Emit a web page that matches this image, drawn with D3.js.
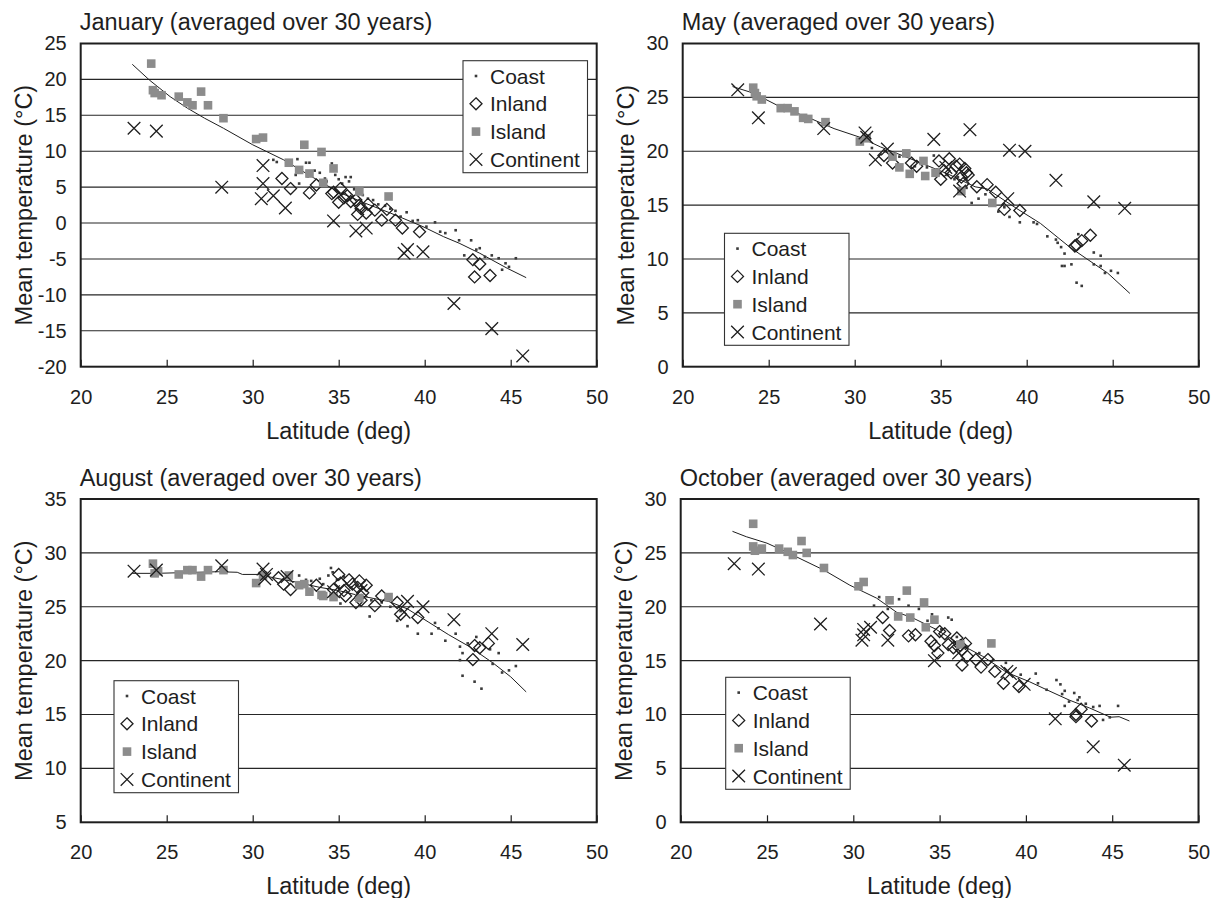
<!DOCTYPE html>
<html>
<head>
<meta charset="utf-8">
<script src="https://cdn.jsdelivr.net/npm/d3@7"></script>
<style>
  html, body { margin: 0; padding: 0; background: #fff; }
  svg { display: block; }
</style>
</head>
<body>
<svg id="chart" width="1218" height="898"></svg>
<script>
// ---------------- DATA ----------------
const seriesNames = ["Coast", "Inland", "Island", "Continent"];
const xTicks = [20, 25, 30, 35, 40, 45, 50];
const panelTitles = [
  "January (averaged over 30 years)",
  "May (averaged over 30 years)",
  "August (averaged over 30 years)",
  "October (averaged over 30 years)"
];
const xAxisTitle = "Latitude (deg)";
const yAxisTitle = "Mean temperature (°C)";

const janYTicks = [-20, -15, -10, -5, 0, 5, 10, 15, 20, 25];
const mayYTicks = [0, 5, 10, 15, 20, 25, 30];
const augYTicks = [5, 10, 15, 20, 25, 30, 35];
const octYTicks = [0, 5, 10, 15, 20, 25, 30];

// January
const janCoast = [[31.2,8.8],[31.4,8.5],[32.5,6.7],[32.6,8.9],[32.7,5.5],[33.1,8.4],[33.3,8.4],[33.2,6.5],[33.6,7.3],[33.9,7.0],[34.2,6.2],[34.3,5.8],[34.6,8.3],[34.7,7.8],[34.8,6.7],[35.0,6.1],[35.2,5.5],[35.4,6.4],[35.6,5.8],[35.7,6.4],[35.9,4.7],[36.1,4.3],[36.4,3.9],[36.7,3.4],[37.0,3.2],[37.3,2.6],[37.7,2.4],[38.0,2.0],[38.3,1.7],[38.6,0.9],[38.95,1.5],[39.3,0.3],[39.6,0.4],[40.1,-0.5],[40.6,0.1],[40.9,-1.2],[41.2,-1.4],[41.8,-1.0],[42.0,-2.4],[42.3,-4.5],[42.7,-2.4],[43.0,-3.7],[43.2,-3.5],[43.5,-4.7],[43.9,-4.5],[44.3,-4.9],[44.5,-6.5],[44.7,-5.6],[44.9,-6.1],[45.3,-4.9]];
const janInland = [[31.7,6.2],[32.2,4.8],[33.3,4.2],[33.7,5.3],[34.6,4.1],[34.7,4.3],[35.0,2.9],[35.1,4.8],[35.3,3.5],[35.5,3.8],[35.7,3.0],[36.0,3.2],[36.2,2.5],[36.1,1.2],[36.3,2.0],[36.6,1.4],[36.7,2.6],[37.1,1.8],[37.5,0.4],[37.8,1.9],[38.3,0.4],[38.7,-0.7],[39.7,-1.2],[42.8,-5.1],[43.2,-5.7],[42.9,-7.5],[43.8,-7.3]];
const janIsland = [[24.1,22.2],[24.2,18.5],[24.3,18.1],[24.7,17.8],[25.7,17.6],[26.2,16.8],[26.5,16.4],[27.0,18.3],[27.4,16.4],[28.3,14.6],[30.2,11.7],[30.6,11.9],[32.1,8.4],[32.7,7.4],[33.0,10.9],[33.3,6.9],[34.0,9.9],[34.1,5.6],[34.7,7.6],[36.2,4.4],[37.9,3.7]];
const janContinent = [[23.1,13.2],[24.4,12.8],[28.2,5.0],[30.6,8.0],[30.6,5.5],[30.5,3.4],[31.2,3.8],[31.9,2.1],[34.7,0.3],[36.0,-1.1],[36.6,-0.7],[38.8,-4.2],[39.0,-3.7],[39.9,-4.0],[41.7,-11.2],[43.9,-14.7],[45.7,-18.5]];
const janTrend = [[23.0,22.1],[24.0,19.9],[25.2,17.6],[26.2,16.0],[27.2,14.6],[28.3,13.2],[30.0,10.9],[31.8,8.8],[33.4,6.5],[35.0,4.3],[36.5,2.8],[38.0,1.4],[39.9,-0.5],[41.1,-1.9],[42.0,-2.8],[43.2,-4.2],[44.8,-6.3],[45.9,-7.6]];

// May
const mayCoast = [[31.0,20.3],[31.8,20.0],[32.6,19.5],[33.5,18.6],[34.2,18.5],[34.6,19.6],[34.8,18.3],[35.4,17.8],[35.8,17.4],[36.0,17.6],[36.5,16.6],[36.8,15.2],[37.2,15.6],[37.6,16.0],[38.35,14.4],[38.7,14.8],[39.0,13.9],[39.6,13.4],[40.4,13.4],[40.6,13.25],[41.2,12.1],[41.7,11.8],[41.8,11.5],[42.0,11.1],[42.2,10.5],[42.05,9.35],[42.2,9.35],[42.6,9.5],[42.9,7.8],[43.2,7.5],[43.0,12.3],[43.9,10.6],[44.3,10.3],[43.9,9.5],[44.3,9.35],[44.55,8.7],[44.9,8.9],[45.3,8.7]];
const mayInland = [[31.7,19.6],[32.2,18.9],[33.3,18.9],[33.6,18.6],[34.9,19.1],[35.0,17.4],[35.2,18.2],[35.5,19.3],[35.6,18.0],[35.9,18.6],[36.1,18.8],[36.2,17.6],[36.3,17.0],[36.5,18.0],[36.6,17.8],[36.4,18.4],[37.1,16.7],[37.7,16.9],[38.2,16.2],[38.7,14.6],[39.6,14.5],[42.8,11.2],[42.9,11.3],[43.2,11.7],[43.7,12.2]];
const mayIsland = [[24.1,25.9],[24.2,25.4],[24.3,25.1],[24.6,24.8],[25.7,24.0],[26.1,24.0],[26.5,23.7],[27.0,23.1],[27.3,23.0],[28.3,22.7],[30.3,20.9],[30.7,21.2],[32.2,19.5],[32.6,18.5],[33.0,19.8],[33.2,17.9],[34.0,19.1],[34.1,17.7],[34.7,18.0],[36.2,16.3],[38.0,15.2]];
const mayContinent = [[23.2,25.7],[24.4,23.1],[28.2,22.1],[30.6,21.7],[30.7,21.3],[31.2,19.2],[31.9,20.2],[34.6,21.1],[35.3,18.5],[36.1,16.3],[36.7,22.0],[38.9,15.6],[39.0,20.1],[39.9,20.0],[41.7,17.3],[43.9,15.3],[45.7,14.7]];
const mayTrend = [[22.9,26.0],[24.1,25.4],[25.7,24.1],[27.2,23.2],[28.8,22.1],[30.3,21.3],[31.5,20.4],[33.4,19.2],[35.4,17.9],[37.0,16.7],[37.7,16.5],[39.4,14.7],[40.8,13.3],[42.5,11.1],[43.5,10.0],[44.7,8.7],[46.0,6.8]];

// August
const augCoast = [[32.7,27.9],[33.1,27.5],[33.4,27.4],[33.9,27.6],[34.1,27.1],[34.4,27.9],[34.55,28.6],[34.65,28.2],[34.9,27.5],[35.1,25.3],[35.3,27.8],[35.7,26.8],[36.1,26.2],[36.8,24.1],[36.9,25.6],[37.5,25.4],[38.0,25.0],[38.4,23.7],[38.6,24.6],[39.0,23.2],[39.6,22.5],[40.4,22.5],[40.6,23.5],[40.8,23.0],[41.2,21.85],[41.8,22.5],[42.05,21.3],[42.2,20.7],[42.05,20.05],[42.2,18.6],[42.5,21.6],[42.9,18.05],[43.0,22.2],[43.3,17.4],[43.8,21.05],[43.95,19.7],[44.3,20.7],[44.5,18.9],[44.9,19.1],[45.3,19.5]];
const augInland = [[31.5,27.7],[31.8,27.1],[32.2,26.6],[33.7,27.0],[34.7,26.6],[35.0,28.0],[35.1,27.2],[35.3,26.5],[35.4,26.0],[35.6,27.5],[35.8,27.1],[36.0,25.4],[36.1,26.8],[36.2,27.4],[36.4,26.3],[36.6,27.0],[36.3,25.6],[37.1,25.1],[37.5,26.0],[38.4,25.4],[38.6,24.3],[39.6,24.0],[42.8,20.1],[42.9,21.4],[43.2,21.2],[43.7,21.6]];
const augIsland = [[24.2,29.0],[24.3,28.1],[24.5,28.3],[25.7,28.0],[26.2,28.4],[26.5,28.4],[27.0,27.8],[27.4,28.4],[28.3,28.4],[30.2,27.2],[30.6,27.9],[32.1,27.9],[32.7,27.0],[33.0,27.1],[33.3,26.4],[34.0,26.1],[34.1,26.0],[34.7,25.9],[36.2,25.8],[37.9,25.9]];
const augContinent = [[23.1,28.3],[24.4,28.4],[28.2,28.8],[30.6,28.5],[30.7,27.6],[30.8,28.0],[32.0,27.8],[34.7,26.4],[36.3,26.5],[38.8,24.5],[39.0,25.5],[39.9,25.0],[41.7,23.8],[43.9,22.5],[45.7,21.5]];
const augTrend = [[23.0,28.1],[24.4,28.1],[26.7,28.2],[28.0,28.25],[29.1,28.2],[29.4,28.0],[30.3,28.0],[31.2,27.7],[32.5,27.3],[33.9,26.8],[35.0,26.5],[36.3,26.0],[37.9,25.5],[39.0,24.8],[40.2,23.6],[41.4,22.4],[42.6,21.3],[44.0,19.75],[45.0,18.5],[45.9,17.1]];

// October
const octCoast = [[31.2,20.1],[31.5,20.9],[32.0,19.8],[32.65,20.7],[33.2,20.1],[33.8,19.8],[34.3,18.7],[34.56,19.3],[35.1,17.9],[35.5,19.0],[35.7,18.8],[36.0,17.2],[36.6,16.3],[37.3,15.7],[38.1,15.05],[38.84,14.8],[39.7,13.7],[40.57,13.8],[40.7,12.9],[41.2,12.3],[41.77,13.2],[42.0,12.8],[42.25,12.2],[42.1,11.9],[42.5,11.2],[42.25,10.8],[42.8,12.0],[43.0,11.35],[43.1,11.6],[43.47,11.0],[43.9,10.7],[44.27,10.8],[44.47,9.5],[44.86,9.74],[45.34,10.8]];
const octInland = [[31.7,19.0],[32.1,17.8],[33.2,17.3],[33.6,17.4],[34.5,16.8],[34.7,16.4],[34.9,15.7],[35.0,17.7],[35.3,17.5],[35.5,16.5],[35.8,16.2],[36.0,17.1],[36.2,16.4],[36.3,16.0],[36.3,14.6],[36.5,16.6],[36.6,15.4],[37.1,15.1],[37.4,14.4],[37.8,15.1],[38.2,14.0],[38.7,12.9],[39.6,12.6],[42.9,9.8],[42.9,10.0],[43.2,10.5],[43.8,9.4]];
const octIsland = [[24.2,27.7],[24.2,25.6],[24.3,25.2],[24.7,25.4],[25.7,25.4],[26.2,25.1],[26.5,24.8],[27.0,26.1],[27.3,25.0],[28.3,23.6],[30.3,21.9],[30.6,22.3],[32.1,20.6],[32.6,19.1],[33.1,21.5],[33.3,19.0],[34.1,20.4],[34.2,18.1],[34.7,18.8],[36.2,16.5],[38.0,16.6]];
const octContinent = [[23.1,24.0],[24.5,23.5],[28.1,18.4],[30.6,17.9],[30.6,17.4],[30.5,16.9],[31.0,18.1],[32.0,16.9],[34.7,15.0],[36.1,15.7],[38.9,14.0],[39.1,13.8],[39.9,12.8],[41.7,9.6],[43.9,7.0],[45.7,5.3]];
const octTrend = [[23.0,27.0],[23.8,26.5],[25.0,25.9],[26.1,25.1],[28.3,23.4],[29.8,22.0],[31.35,20.8],[32.5,19.5],[33.4,19.0],[34.8,17.9],[36.1,16.6],[37.5,15.4],[38.9,13.9],[40.2,13.05],[41.2,12.3],[42.5,11.35],[43.7,10.6],[44.9,9.75],[45.4,9.8],[46.0,9.4]];

// ---------------- LAYOUT ----------------
const FONT = "'Liberation Sans', Arial, Helvetica, sans-serif";
const panels = [
  { title: panelTitles[0], yTicks: janYTicks, coast: janCoast, inland: janInland, island: janIsland, continent: janContinent, trend: janTrend,
    x0: 80.7, x1: 596.7, y0: 43.5, y1: 366.7, legend: [463, 60.7] },
  { title: panelTitles[1], yTicks: mayYTicks, coast: mayCoast, inland: mayInland, island: mayIsland, continent: mayContinent, trend: mayTrend,
    x0: 682.7, x1: 1198.7, y0: 43.5, y1: 366.7, legend: [724.5, 233.3] },
  { title: panelTitles[2], yTicks: augYTicks, coast: augCoast, inland: augInland, island: augIsland, continent: augContinent, trend: augTrend,
    x0: 80.7, x1: 596.7, y0: 499, y1: 822.3, legend: [114, 680.7] },
  { title: panelTitles[3], yTicks: octYTicks, coast: octCoast, inland: octInland, island: octIsland, continent: octContinent, trend: octTrend,
    x0: 680.7, x1: 1198.5, y0: 499, y1: 822.3, legend: [725.7, 677.3] }
];

const svg = d3.select("#chart");
svg.append("rect").attr("width", 1218).attr("height", 898).attr("fill", "#fff");

const diamondPath = "M0,-6L6,0L0,6L-6,0Z";
const crossPath = "M-6.3,-6.3L6.3,6.3M-6.3,6.3L6.3,-6.3";
const ISLAND = "#8c8c8c";
const INK = "#1e1e1e";
const fmt = d => String(d);   // plain hyphen-minus like the reference

function drawMarker(g, type, cx, cy) {
  if (type === "Coast") {
    g.append("rect").attr("x", cx - 1.3).attr("y", cy - 1.3).attr("width", 2.6).attr("height", 2.6).attr("fill", "#3a3a3a");
  } else if (type === "Inland") {
    g.append("path").attr("d", diamondPath).attr("transform", `translate(${cx},${cy})`)
      .attr("fill", "none").attr("stroke", INK).attr("stroke-width", 1.3);
  } else if (type === "Island") {
    g.append("rect").attr("x", cx - 4.3).attr("y", cy - 4.3).attr("width", 8.6).attr("height", 8.6).attr("fill", ISLAND);
  } else {
    g.append("path").attr("d", crossPath).attr("transform", `translate(${cx},${cy})`)
      .attr("fill", "none").attr("stroke", INK).attr("stroke-width", 1.3);
  }
}

panels.forEach(p => {
  const x = d3.scaleLinear().domain([20, 50]).range([p.x0, p.x1]);
  const yd = d3.extent(p.yTicks);
  const y = d3.scaleLinear().domain(yd).range([p.y1, p.y0]);
  const g = svg.append("g");

  // grid lines
  g.append("g").selectAll("line").data(p.yTicks.slice(1, -1)).join("line")
    .attr("x1", p.x0).attr("x2", p.x1)
    .attr("y1", d => y(d)).attr("y2", d => y(d))
    .attr("stroke", "#262626").attr("stroke-width", 1.1);

  // x axis (ticks inside)
  const xAxis = g.append("g").attr("transform", `translate(0,${p.y1})`)
    .call(d3.axisBottom(x).tickValues(xTicks).tickSizeInner(-7).tickSizeOuter(0).tickPadding(23).tickFormat(fmt));
  xAxis.select(".domain").remove();
  xAxis.selectAll("line").attr("stroke", INK).attr("stroke-width", 1.2);
  xAxis.selectAll("text").attr("font-family", FONT).attr("font-size", 20).attr("fill", INK);

  // y axis labels
  const yAxis = g.append("g").attr("transform", `translate(${p.x0},0)`)
    .call(d3.axisLeft(y).tickValues(p.yTicks).tickSize(0).tickPadding(14).tickFormat(fmt));
  yAxis.select(".domain").remove();
  yAxis.selectAll("text").attr("font-family", FONT).attr("font-size", 20).attr("fill", INK);

  // trend line
  g.append("path").datum(p.trend)
    .attr("d", d3.line().x(d => x(d[0])).y(d => y(d[1])))
    .attr("fill", "none").attr("stroke", INK).attr("stroke-width", 1);

  // data
  const mg = g.append("g");
  p.coast.forEach(d => drawMarker(mg, "Coast", x(d[0]), y(d[1])));
  p.inland.forEach(d => drawMarker(mg, "Inland", x(d[0]), y(d[1])));
  p.island.forEach(d => drawMarker(mg, "Island", x(d[0]), y(d[1])));
  p.continent.forEach(d => drawMarker(mg, "Continent", x(d[0]), y(d[1])));

  // frame
  g.append("rect").attr("x", p.x0).attr("y", p.y0)
    .attr("width", p.x1 - p.x0).attr("height", p.y1 - p.y0)
    .attr("fill", "none").attr("stroke", INK).attr("stroke-width", 2);

  // titles
  g.append("text").attr("x", p.x0 - 1).attr("y", p.y0 - 13.5)
    .attr("font-family", FONT).attr("font-size", 23.5).attr("fill", INK).text(p.title);
  g.append("text").attr("x", (p.x0 + p.x1) / 2).attr("y", p.y1 + 72)
    .attr("text-anchor", "middle").attr("font-family", FONT).attr("font-size", 23.5).attr("fill", INK).text(xAxisTitle);
  const ycx = p.x0 - 48.5, ycy = (p.y0 + p.y1) / 2;
  g.append("text").attr("transform", `translate(${ycx},${ycy}) rotate(-90)`)
    .attr("text-anchor", "middle").attr("font-family", FONT).attr("font-size", 23.5).attr("fill", INK).text(yAxisTitle);

  // legend
  const [lx, ly] = p.legend;
  const lg = g.append("g");
  lg.append("rect").attr("x", lx).attr("y", ly).attr("width", 124.5).attr("height", 112)
    .attr("fill", "#fff").attr("stroke", "#333").attr("stroke-width", 1.1);
  seriesNames.forEach((name, i) => {
    const cy = ly + 15.3 + i * 27.8;
    drawMarker(lg, name, lx + 13, cy);
    lg.append("text").attr("x", lx + 27).attr("y", cy).attr("dy", "0.36em")
      .attr("font-family", FONT).attr("font-size", 21).attr("fill", INK).text(name);
  });
});
</script>
</body>
</html>
